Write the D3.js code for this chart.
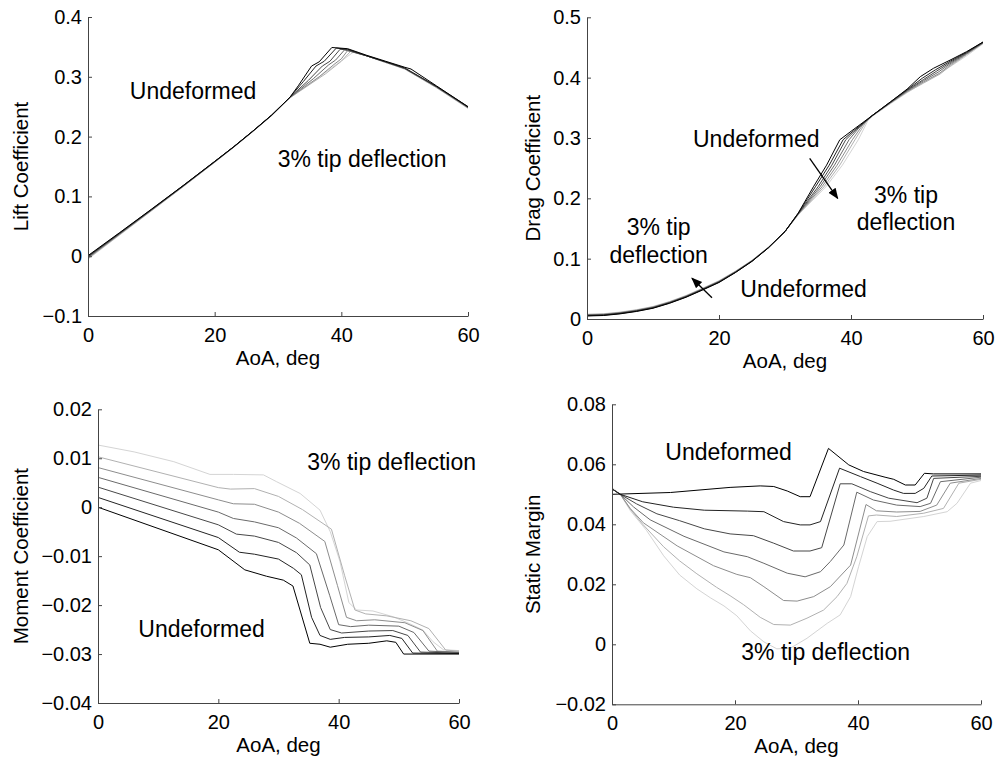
<!DOCTYPE html>
<html>
<head>
<meta charset="utf-8">
<script src="https://cdn.jsdelivr.net/npm/d3@7"></script>
<style>
body { margin: 0; background: #fff; }
svg { font-family: "Liberation Sans", Arial, Helvetica, sans-serif; }
.axis path, .axis line { stroke: #444; }
.axis text { fill: #000; font-family: "Liberation Sans", Arial, sans-serif; font-size: 20px; }
.label { font-size: 20.5px; fill: #000; }
.note { font-size: 23px; fill: #000; }
.curve { fill: none; stroke-width: 1; }
</style>
</head>
<body>
<svg width="997" height="760"></svg>
<script>
var aoaTicks = [0, 20, 40, 60];
var liftTicks = [-0.1, 0, 0.1, 0.2, 0.3, 0.4];
var dragTicks = [0, 0.1, 0.2, 0.3, 0.4, 0.5];
var momentTicks = [-0.04, -0.03, -0.02, -0.01, 0, 0.01, 0.02];
var marginTicks = [-0.02, 0, 0.02, 0.04, 0.06, 0.08];

// seven curves per plot: undeformed first, 3% tip deflection last. points are [AoA deg, value]
var liftCurves = [
  [[0,0.001],[5,0.0395],[10,0.0785],[15,0.118],[20,0.1585],[23,0.183],[26,0.209],[29,0.236],[31.9,0.266],[33.2,0.285],[35.3,0.318],[36.5,0.325],[38.5,0.349],[41,0.347],[44,0.336],[47,0.326],[50,0.316],[51,0.313],[55,0.285],[60,0.250]],
  [[0,0.000],[5,0.0388],[10,0.078],[15,0.1177],[20,0.1583],[23,0.183],[26,0.209],[29,0.236],[31.9,0.266],[34,0.292],[36,0.318],[37.3,0.326],[39.2,0.348],[41,0.346],[44,0.335],[47,0.325],[50,0.315],[55,0.284],[60,0.250]],
  [[0,-0.001],[5,0.0381],[10,0.0775],[15,0.1174],[20,0.158],[23,0.1828],[26,0.2088],[29,0.2358],[31.9,0.266],[34.8,0.294],[37,0.318],[38.2,0.326],[39.8,0.346],[41,0.345],[44,0.335],[47,0.325],[50,0.314],[55,0.284],[60,0.249]],
  [[0,-0.002],[5,0.0374],[10,0.077],[15,0.117],[20,0.1577],[23,0.1826],[26,0.2086],[29,0.2356],[31.9,0.2655],[35.6,0.297],[38,0.320],[39.1,0.328],[40.5,0.345],[44,0.335],[47,0.325],[50,0.314],[55,0.283],[60,0.249]],
  [[0,-0.003],[5,0.0367],[10,0.0765],[15,0.1166],[20,0.1574],[23,0.1824],[26,0.2084],[29,0.2354],[31.9,0.2655],[36.5,0.300],[39,0.322],[40,0.330],[41,0.344],[44,0.335],[47,0.324],[50,0.314],[55,0.283],[60,0.248]],
  [[0,-0.004],[5,0.036],[10,0.076],[15,0.1162],[20,0.1571],[23,0.1822],[26,0.2082],[29,0.2352],[31.9,0.265],[37.5,0.305],[40,0.326],[41.5,0.343],[44,0.335],[47,0.324],[50,0.313],[55,0.282],[60,0.248]],
  [[0,-0.005],[5,0.0353],[10,0.0755],[15,0.1158],[20,0.1568],[23,0.182],[26,0.208],[29,0.235],[31.9,0.2645],[42,0.342],[44,0.335],[47,0.324],[50,0.313],[55,0.282],[60,0.247]]
];

var dragCurves = [
  [[0,0.005],[2.5,0.0058],[5,0.0085],[7.5,0.0125],[10,0.0178],[12.5,0.026],[15,0.036],[17.5,0.048],[20,0.0605],[22.5,0.077],[25,0.0955],[27.5,0.118],[30,0.145],[32,0.1755],[34.3,0.219],[36.3,0.255],[38.3,0.297],[40,0.311],[43.2,0.337],[46,0.360],[48.5,0.381],[50.5,0.4016],[52.5,0.4155],[55,0.429],[57.5,0.443],[60,0.459]],
  [[0,0.0055],[2.5,0.0063],[5,0.009],[7.5,0.013],[10,0.0183],[12.5,0.0265],[15,0.0365],[17.5,0.0485],[20,0.061],[22.5,0.0774],[25,0.0958],[27.5,0.1182],[30,0.145],[32,0.175],[34.6,0.219],[36.7,0.255],[38.8,0.297],[40.4,0.312],[43.2,0.337],[46,0.360],[48.5,0.380],[50.8,0.399],[52.8,0.413],[55,0.427],[57.5,0.442],[60,0.459]],
  [[0,0.006],[2.5,0.0068],[5,0.0095],[7.5,0.0135],[10,0.0188],[12.5,0.027],[15,0.037],[17.5,0.049],[20,0.0615],[22.5,0.0778],[25,0.0961],[27.5,0.1184],[30,0.145],[32,0.1745],[35,0.219],[37.1,0.255],[39.2,0.297],[40.8,0.314],[43.2,0.337],[46,0.359],[48.5,0.379],[51,0.397],[53,0.411],[55,0.425],[57.5,0.441],[60,0.458]],
  [[0,0.0065],[2.5,0.0073],[5,0.010],[7.5,0.014],[10,0.0193],[12.5,0.0275],[15,0.0375],[17.5,0.0495],[20,0.062],[22.5,0.0782],[25,0.0964],[27.5,0.1186],[30,0.145],[32,0.174],[35.3,0.219],[37.5,0.255],[39.7,0.297],[41.3,0.318],[43.2,0.337],[46,0.359],[48.5,0.378],[51,0.395],[53.2,0.409],[55,0.423],[57.5,0.440],[60,0.458]],
  [[0,0.007],[2.5,0.0078],[5,0.0105],[7.5,0.0145],[10,0.0198],[12.5,0.028],[15,0.038],[17.5,0.05],[20,0.0625],[22.5,0.0786],[25,0.0967],[27.5,0.1188],[30,0.145],[32,0.1735],[35.6,0.219],[37.9,0.255],[40.2,0.297],[41.8,0.322],[43.3,0.337],[46,0.358],[48.5,0.377],[51,0.393],[53.4,0.407],[55,0.421],[57.5,0.439],[60,0.457]],
  [[0,0.0075],[2.5,0.0083],[5,0.011],[7.5,0.015],[10,0.0203],[12.5,0.0285],[15,0.0385],[17.5,0.0505],[20,0.063],[22.5,0.079],[25,0.097],[27.5,0.119],[30,0.145],[32,0.173],[35.9,0.219],[38.3,0.255],[40.6,0.297],[42.3,0.327],[43.4,0.338],[46,0.358],[48.5,0.376],[51,0.391],[53.5,0.406],[55,0.419],[57.5,0.438],[60,0.457]],
  [[0,0.008],[2.5,0.0088],[5,0.0115],[7.5,0.0155],[10,0.0208],[12.5,0.029],[15,0.039],[17.5,0.051],[20,0.0635],[22.5,0.0794],[25,0.0973],[27.5,0.1192],[30,0.145],[32,0.1725],[36.2,0.219],[38.7,0.255],[41.1,0.297],[42.8,0.334],[43.5,0.338],[46,0.357],[48.5,0.375],[51,0.392],[53,0.405],[55,0.418],[57.5,0.436],[60,0.456]]
];

var momentCurves = [
  [[0,0],[20,-0.0087],[24.4,-0.0128],[28,-0.0141],[30.8,-0.0149],[32.4,-0.0161],[35.2,-0.0278],[36.9,-0.0280],[38.6,-0.0286],[41.5,-0.0280],[45,-0.0278],[48,-0.0273],[49.5,-0.0276],[50.8,-0.0300],[60,-0.0300]],
  [[0,0.002],[20,-0.0062],[23.5,-0.0092],[26,-0.0096],[30,-0.0106],[32.5,-0.0125],[33.8,-0.0138],[35.5,-0.0225],[36.9,-0.0262],[38.6,-0.0270],[41,-0.0266],[45,-0.0265],[48.5,-0.0262],[50.5,-0.0268],[52.3,-0.0298],[60,-0.0299]],
  [[0,0.0041],[20,-0.0036],[23,-0.0055],[26,-0.0059],[30,-0.0072],[33,-0.0093],[35.2,-0.0118],[37,-0.0205],[38.6,-0.0250],[40.5,-0.0257],[45,-0.0253],[49,-0.0252],[51.5,-0.0262],[53.6,-0.0296],[60,-0.0298]],
  [[0,0.0061],[20,-0.0010],[22.5,-0.0023],[26,-0.0030],[30,-0.0042],[33,-0.0063],[36.3,-0.0095],[38.5,-0.0180],[40,-0.0240],[42,-0.0244],[45,-0.0241],[50,-0.0243],[52.5,-0.0256],[55,-0.0294],[60,-0.0297]],
  [[0,0.0081],[20,0.0015],[22.5,0.0007],[26,0.0006],[30,-0.0010],[33.5,-0.0033],[37.7,-0.0070],[39.8,-0.0160],[41.3,-0.0225],[43,-0.0232],[46,-0.0230],[51,-0.0236],[54,-0.0252],[56.4,-0.0294],[60,-0.0296]],
  [[0,0.0103],[20,0.0040],[22,0.0037],[26,0.0038],[30,0.0022],[34,-0.0005],[38.8,-0.0045],[41,-0.0140],[42.7,-0.0210],[44.5,-0.0218],[48,-0.0222],[52,-0.0232],[55,-0.0248],[57.8,-0.0292],[60,-0.0294]],
  [[0,0.0127],[6,0.0113],[12.6,0.0093],[18.6,0.0067],[22.5,0.0067],[27.5,0.0066],[29.7,0.0052],[33.6,0.0028],[36.9,-0.0006],[38.6,-0.0050],[40.2,-0.0110],[41.7,-0.0195],[43,-0.0210],[45.7,-0.0212],[49.1,-0.0224],[51.8,-0.0238],[54,-0.0251],[55.7,-0.0275],[57.4,-0.0291],[60,-0.0293]]
];

var marginCurves = [
  [[0,0.05],[9.5,0.0506],[19.2,0.0523],[24.1,0.0528],[26.3,0.0526],[28.5,0.0511],[30.6,0.0492],[32.2,0.0492],[35.2,0.0653],[38.5,0.0598],[40.9,0.0576],[44.4,0.0557],[45.8,0.0550],[47.7,0.0531],[49.3,0.0531],[50.8,0.0570],[52.3,0.0568],[60,0.0568]],
  [[0,0.0518],[1.35,0.05],[5,0.0475],[10,0.0457],[15,0.0447],[22,0.0444],[24.7,0.0442],[27.9,0.0409],[30.6,0.0398],[32.2,0.0398],[33.9,0.0409],[37,0.0587],[40.4,0.0559],[43.1,0.0537],[45.8,0.0514],[47.4,0.0503],[49.3,0.0503],[50.7,0.0520],[52,0.0561],[60,0.0564]],
  [[0,0.0518],[1.35,0.05],[4,0.0468],[7.3,0.0435],[11,0.0412],[15,0.0385],[19.2,0.0368],[23,0.0362],[26.3,0.0337],[29.5,0.0311],[32.2,0.0311],[34.1,0.0322],[37.1,0.0535],[39,0.0535],[42,0.0509],[45,0.0487],[49.6,0.0472],[51.2,0.0487],[52.3,0.0553],[60,0.0560]],
  [[0,0.0518],[1.35,0.05],[3.5,0.0458],[6.2,0.0415],[11.7,0.0360],[18.2,0.0308],[22,0.0292],[24.7,0.0270],[28.5,0.0237],[31.4,0.0225],[33.9,0.0242],[35.5,0.0276],[37.7,0.0331],[39.8,0.0507],[42.5,0.0481],[46.3,0.0464],[50.1,0.0459],[51.8,0.0470],[53.4,0.0542],[60,0.0557]],
  [[0,0.0518],[1.35,0.05],[3,0.0452],[5.1,0.0405],[10.6,0.0328],[16.5,0.0262],[20.3,0.0233],[22.5,0.0222],[24.7,0.0192],[27.9,0.0146],[30.1,0.0144],[32.8,0.0159],[35.5,0.0192],[38.8,0.0264],[41.3,0.0466],[43,0.0445],[46.3,0.0441],[50.1,0.0443],[52.8,0.0464],[55,0.0537],[60,0.0553]],
  [[0,0.0518],[1.35,0.05],[2.8,0.0455],[5,0.0400],[8.4,0.0325],[11,0.0278],[13.8,0.0235],[17,0.0190],[19.2,0.0162],[21.4,0.0132],[24.1,0.0090],[26.3,0.0066],[29,0.0064],[31.7,0.0087],[34.4,0.0114],[36.6,0.0159],[38.2,0.0203],[39.8,0.0292],[41.7,0.0428],[43,0.0431],[46.3,0.0426],[50.7,0.0437],[53.9,0.0453],[56.4,0.0537],[60,0.0550]],
  [[0,0.0523],[1.35,0.05],[3,0.0445],[5.6,0.0380],[8.4,0.0295],[11,0.0231],[13.8,0.0185],[16,0.0155],[18.2,0.0128],[20.3,0.0095],[22.5,0.0045],[24.7,0.0008],[26.8,-0.0015],[29,-0.0013],[31.7,0.0020],[35,0.0070],[37.1,0.0098],[38.8,0.0159],[40.1,0.0259],[41.5,0.0359],[43.1,0.0409],[45.2,0.0410],[50.7,0.0426],[54.5,0.0442],[56.1,0.0470],[58.3,0.0537],[60,0.0546]]
];

// annotations: [text, AoA, value, anchor]
var liftNotes = [["Undeformed", 6.6, 0.263, "start"], ["3% tip deflection", 29.95, 0.150, "start"]];
var dragNotes = [["Undeformed", 16.06, 0.2856, "start"], ["3% tip", 48.33, 0.1922, "middle"], ["deflection", 48.33, 0.1475, "middle"],
                 ["3% tip", 10.86, 0.1395, "middle"], ["deflection", 10.86, 0.0928, "middle"], ["Undeformed", 23.23, 0.037, "start"]];
var momentNotes = [["3% tip deflection", 34.78, 0.0075, "start"], ["Undeformed", 6.7, -0.0266, "start"]];
var marginNotes = [["Undeformed", 8.67, 0.0615, "start"], ["3% tip deflection", 21.02, -0.0052, "start"]];
var dragArrows = [[[33.74, 0.2663], [37.98, 0.200]], [[18.94, 0.0353], [15.91, 0.0675]]];

var panels = [
  {curves: liftCurves, ticks: liftTicks, label: "Lift Coefficient", notes: liftNotes, arrows: [],
   left: 88, right: 468, top: 17, bottom: 316, labelX: 27.5},
  {curves: dragCurves, ticks: dragTicks, label: "Drag Coefficient", notes: dragNotes, arrows: dragArrows,
   left: 587, right: 983, top: 17.3, bottom: 319, labelX: 540},
  {curves: momentCurves, ticks: momentTicks, label: "Moment Coefficient", notes: momentNotes, arrows: [],
   left: 98, right: 459, top: 409.3, bottom: 703, labelX: 28},
  {curves: marginCurves, ticks: marginTicks, label: "Static Margin", notes: marginNotes, arrows: [],
   left: 612, right: 981, top: 404.3, bottom: 704.3, labelX: 540}
];

var svg = d3.select("svg");

svg.append("defs").append("marker")
    .attr("id", "head")
    .attr("viewBox", "0 -5 10 10")
    .attr("refX", 9)
    .attr("markerWidth", 11)
    .attr("markerHeight", 11)
    .attr("markerUnits", "userSpaceOnUse")
    .attr("orient", "auto")
  .append("path")
    .attr("d", "M0,-4L10,0L0,4Z")
    .attr("fill", "#000");

var shade = d3.scaleLinear().domain([0, 6]).range(["#000000", "#d4d4d4"]);
var fmt = d3.format("~g");

panels.forEach(function(p) {
  var x = d3.scaleLinear().domain([0, 60]).range([p.left, p.right]);
  var y = d3.scaleLinear().domain(d3.extent(p.ticks)).range([p.bottom, p.top]);

  var line = d3.line()
      .x(function(d) { return x(d[0]); })
      .y(function(d) { return y(d[1]); });

  svg.append("g")
      .selectAll("path")
      .data(p.curves.slice().reverse())
    .enter().append("path")
      .attr("class", "curve")
      .attr("stroke", function(d, i) { return shade(6 - i); })
      .attr("d", line);

  svg.append("g")
      .attr("class", "axis")
      .attr("transform", "translate(0," + p.bottom + ")")
      .call(d3.axisBottom(x).tickValues(aoaTicks).tickFormat(fmt)
        .tickSizeInner(-4).tickSizeOuter(0).tickPadding(12));

  svg.append("g")
      .attr("class", "axis")
      .attr("transform", "translate(" + p.left + ",0)")
      .call(d3.axisLeft(y).tickValues(p.ticks).tickFormat(fmt)
        .tickSizeInner(-4).tickSizeOuter(0).tickPadding(6));

  svg.append("text")
      .attr("class", "label")
      .attr("text-anchor", "middle")
      .attr("x", (p.left + p.right) / 2)
      .attr("y", p.bottom + 49)
      .text("AoA, deg");

  svg.append("text")
      .attr("class", "label")
      .attr("text-anchor", "middle")
      .attr("transform", "translate(" + p.labelX + "," + (p.top + p.bottom) / 2 + ") rotate(-90)")
      .text(p.label);

  svg.append("g").selectAll("text")
      .data(p.notes)
    .enter().append("text")
      .attr("class", "note")
      .attr("text-anchor", function(d) { return d[3]; })
      .attr("x", function(d) { return x(d[1]); })
      .attr("y", function(d) { return y(d[2]); })
      .text(function(d) { return d[0]; });

  svg.append("g").selectAll("line")
      .data(p.arrows)
    .enter().append("line")
      .attr("x1", function(d) { return x(d[0][0]); })
      .attr("y1", function(d) { return y(d[0][1]); })
      .attr("x2", function(d) { return x(d[1][0]); })
      .attr("y2", function(d) { return y(d[1][1]); })
      .attr("stroke", "#000")
      .attr("stroke-width", 1.3)
      .attr("marker-end", "url(#head)");
});
</script>
</body>
</html>
